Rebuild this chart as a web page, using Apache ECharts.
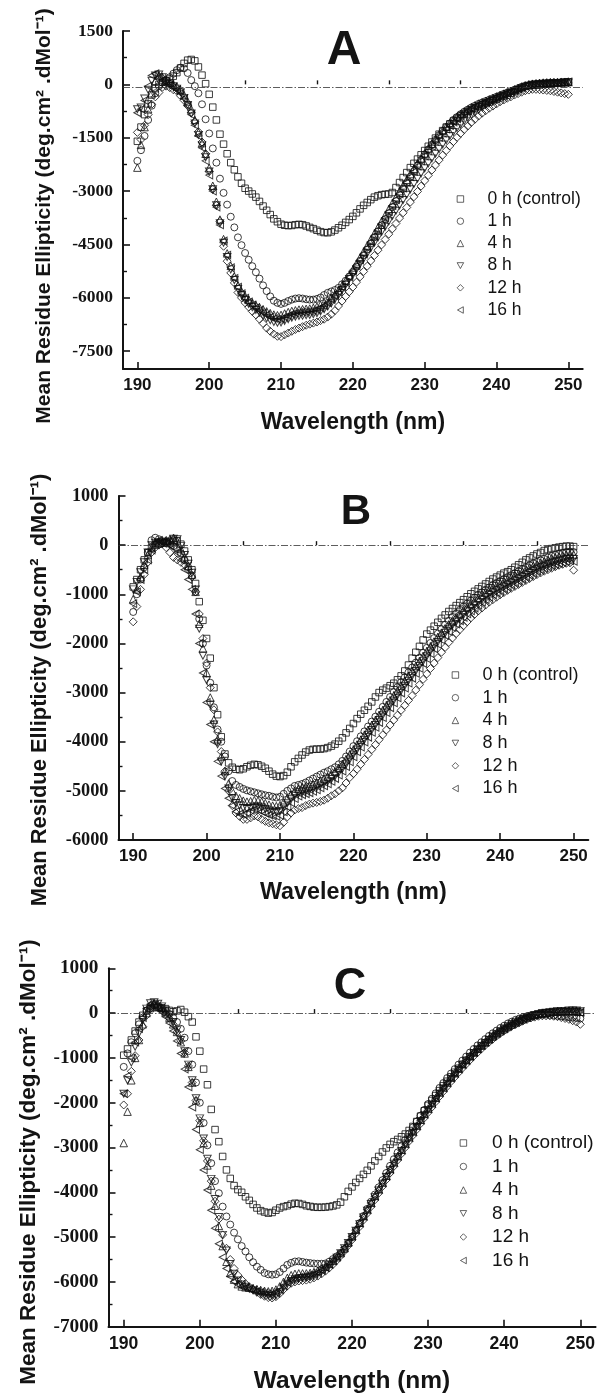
<!DOCTYPE html>
<html><head><meta charset="utf-8">
<script src="https://cdn.jsdelivr.net/npm/echarts@6/dist/echarts.min.js"></script>
<style>html,body{margin:0;padding:0;background:#fff}#c{width:598px;height:1396px}</style>
</head><body><div id="c"></div>
<script>
// ---------- DATA ----------
const wavelength = [
190,190.5,191,191.5,192,192.5,193,193.5,194,194.5,
195,195.5,196,196.5,197,197.5,198,198.5,199,199.5,
200,200.5,201,201.5,202,202.5,203,203.5,204,204.5,
205,205.5,206,206.5,207,207.5,208,208.5,209,209.5,
210,210.5,211,211.5,212,212.5,213,213.5,214,214.5,
215,215.5,216,216.5,217,217.5,218,218.5,219,219.5,
220,220.5,221,221.5,222,222.5,223,223.5,224,224.5,
225,225.5,226,226.5,227,227.5,228,228.5,229,229.5,
230,230.5,231,231.5,232,232.5,233,233.5,234,234.5,
235,235.5,236,236.5,237,237.5,238,238.5,239,239.5,
240,240.5,241,241.5,242,242.5,243,243.5,244,244.5,
245,245.5,246,246.5,247,247.5,248,248.5,249,249.5,
250];
const seriesNames = ['0 h (control)','1 h','4 h','8 h','12 h','16 h'];
const panelLetters = ['A','B','C'];
const xTickLabels = [190,200,210,220,230,240,250];
const xMinorTicks = [195,205,215,225,235,245];
const yTicksA = [-7500,-6000,-4500,-3000,-1500,0,1500];
const yMinorA = [-6750,-5250,-3750,-2250,-750,750];
const yTicksB = [-6000,-5000,-4000,-3000,-2000,-1000,0,1000];
const yMinorB = [-5500,-4500,-3500,-2500,-1500,-500,500];
const yTicksC = [-7000,-6000,-5000,-4000,-3000,-2000,-1000,0,1000];
const yMinorC = [-6500,-5500,-4500,-3500,-2500,-1500,-500,500];
const zeroLineLevel = [-90, 0, 0];

// Panel A
const A_0h = [
-1600,-1200,-850,-550,-300,-120,0,60,100,150,
230,330,460,590,680,700,660,490,260,20,
-280,-640,-1000,-1400,-1680,-1950,-2200,-2400,-2600,-2780,
-2920,-3000,-3080,-3170,-3290,-3420,-3540,-3660,-3780,-3860,
-3930,-3960,-3970,-3965,-3945,-3935,-3945,-3980,-4020,-4055,
-4100,-4140,-4165,-4170,-4145,-4095,-4030,-3960,-3880,-3800,
-3710,-3610,-3500,-3400,-3320,-3240,-3170,-3130,-3100,-3090,
-3080,-3040,-2900,-2760,-2620,-2480,-2340,-2220,-2100,-1980,
-1860,-1740,-1620,-1510,-1400,-1300,-1200,-1110,-1030,-950,
-880,-820,-760,-710,-660,-620,-580,-540,-500,-460,
-420,-380,-340,-300,-250,-200,-150,-100,-60,-40,
-30,-20,-10,0,10,20,30,40,50,60,
70];
const A_1h = [
-2150,-1850,-1450,-1000,-600,-250,-50,50,120,200,
300,400,470,450,320,120,-50,-250,-560,-980,
-1380,-1800,-2200,-2650,-3050,-3380,-3720,-4020,-4300,-4520,
-4740,-4930,-5110,-5280,-5460,-5650,-5810,-5960,-6080,-6140,
-6170,-6140,-6090,-6050,-6020,-6010,-6020,-6040,-6050,-6050,
-6030,-5990,-5920,-5860,-5820,-5780,-5720,-5620,-5520,-5400,
-5270,-5120,-4960,-4800,-4640,-4470,-4300,-4130,-3960,-3790,
-3620,-3450,-3280,-3110,-2940,-2770,-2600,-2440,-2280,-2120,
-1970,-1830,-1690,-1560,-1430,-1310,-1200,-1100,-1000,-920,
-840,-770,-710,-650,-600,-550,-510,-470,-430,-390,
-350,-310,-270,-230,-190,-150,-110,-70,-40,-20,
-10,0,0,10,10,20,20,30,30,40,
40];
const A_4h = [
-2340,-1700,-1200,-700,-250,100,250,200,100,50,
0,-60,-150,-300,-480,-700,-1000,-1350,-1650,-1950,
-2350,-2850,-3300,-3800,-4350,-4750,-5100,-5400,-5650,-5820,
-5950,-6050,-6130,-6200,-6260,-6320,-6380,-6430,-6470,-6490,
-6480,-6440,-6400,-6370,-6350,-6330,-6320,-6310,-6300,-6280,
-6250,-6200,-6140,-6070,-5990,-5900,-5790,-5660,-5520,-5370,
-5210,-5040,-4870,-4700,-4530,-4360,-4190,-4020,-3850,-3680,
-3510,-3340,-3170,-3000,-2840,-2680,-2520,-2370,-2220,-2080,
-1940,-1800,-1670,-1540,-1420,-1300,-1190,-1090,-1000,-910,
-830,-760,-700,-640,-590,-540,-500,-460,-420,-380,
-340,-300,-260,-220,-180,-140,-100,-60,-30,0,
20,30,40,50,50,60,60,60,70,70,
70];
const A_8h = [
-700,-650,-400,-150,100,250,280,200,80,0,
-50,-120,-220,-380,-580,-820,-1100,-1420,-1720,-2050,
-2450,-2950,-3400,-3900,-4450,-4850,-5200,-5500,-5750,-5920,
-6060,-6170,-6260,-6340,-6420,-6500,-6570,-6630,-6680,-6700,
-6690,-6650,-6600,-6560,-6530,-6510,-6500,-6490,-6480,-6460,
-6430,-6380,-6320,-6240,-6150,-6040,-5920,-5780,-5630,-5470,
-5350,-5200,-5050,-4900,-4750,-4600,-4450,-4300,-4150,-4000,
-3850,-3700,-3550,-3400,-3250,-3100,-2950,-2800,-2650,-2500,
-2360,-2220,-2080,-1950,-1820,-1690,-1570,-1450,-1340,-1230,
-1130,-1030,-940,-860,-780,-710,-640,-580,-520,-470,
-420,-370,-320,-280,-240,-200,-160,-120,-80,-40,
-10,0,10,20,20,30,30,40,40,50,
50];
const A_12h = [
-1350,-1550,-1150,-850,-560,-350,-230,-80,-50,-90,
-150,-190,-320,-450,-600,-800,-1050,-1330,-1620,-1950,
-2450,-2950,-3400,-3850,-4550,-4970,-5300,-5580,-5850,-6000,
-6140,-6260,-6380,-6480,-6600,-6720,-6850,-6940,-7020,-7080,
-7090,-7040,-6990,-6940,-6890,-6850,-6810,-6770,-6740,-6710,
-6680,-6640,-6600,-6540,-6460,-6360,-6230,-6090,-5960,-5830,
-5700,-5560,-5410,-5260,-5110,-4960,-4810,-4660,-4510,-4360,
-4210,-4060,-3910,-3760,-3610,-3460,-3310,-3160,-3010,-2860,
-2710,-2560,-2410,-2270,-2130,-1990,-1860,-1730,-1610,-1490,
-1380,-1270,-1170,-1070,-980,-890,-810,-740,-670,-610,
-550,-490,-440,-390,-350,-300,-260,-220,-180,-160,
-140,-140,-150,-160,-170,-180,-200,-220,-240,-260,
-280];
const A_16h = [
-800,-700,-450,-50,250,300,200,120,50,-20,
-80,-150,-250,-400,-600,-850,-1150,-1450,-1780,-2150,
-2550,-3000,-3450,-3950,-4400,-4800,-5150,-5450,-5700,-5880,
-6010,-6110,-6200,-6280,-6350,-6420,-6480,-6540,-6580,-6600,
-6590,-6550,-6500,-6460,-6430,-6410,-6400,-6390,-6380,-6360,
-6330,-6280,-6220,-6140,-6050,-5950,-5840,-5710,-5570,-5420,
-5260,-5100,-4940,-4770,-4600,-4430,-4260,-4090,-3920,-3750,
-3580,-3410,-3240,-3080,-2920,-2760,-2600,-2450,-2300,-2150,
-2010,-1870,-1740,-1610,-1490,-1370,-1260,-1160,-1060,-970,
-890,-810,-740,-680,-620,-570,-520,-480,-440,-400,
-360,-320,-280,-240,-200,-160,-120,-80,-40,-10,
10,20,30,40,40,50,50,60,60,70,
70];

// Panel B
const B_0h = [
-850,-700,-500,-300,-150,-50,0,20,40,60,
80,100,90,20,-120,-300,-500,-780,-1150,-1530,
-1900,-2300,-2900,-3450,-3900,-4250,-4430,-4520,-4560,-4570,
-4550,-4510,-4480,-4460,-4470,-4500,-4540,-4600,-4660,-4700,
-4710,-4690,-4620,-4510,-4410,-4340,-4270,-4210,-4170,-4155,
-4150,-4150,-4140,-4120,-4090,-4050,-3990,-3920,-3820,-3730,
-3630,-3530,-3440,-3360,-3280,-3190,-3090,-3000,-2950,-2910,
-2860,-2810,-2740,-2660,-2560,-2440,-2300,-2180,-2060,-1930,
-1810,-1730,-1650,-1570,-1490,-1420,-1350,-1290,-1230,-1170,
-1110,-1050,-990,-940,-890,-840,-790,-740,-690,-650,
-610,-570,-540,-500,-450,-400,-350,-300,-260,-220,
-180,-150,-110,-90,-70,-55,-40,-30,-20,-20,
-30];
const B_1h = [
-1360,-1000,-700,-450,-150,100,150,120,80,50,
20,-20,-80,-170,-300,-450,-620,-950,-1500,-2000,
-2450,-2800,-3300,-3750,-4000,-4300,-4600,-4800,-4880,-4920,
-4960,-4990,-5010,-5030,-5050,-5070,-5090,-5100,-5120,-5135,
-5120,-5060,-5000,-4950,-4900,-4880,-4860,-4830,-4790,-4750,
-4710,-4670,-4630,-4600,-4560,-4520,-4460,-4390,-4300,-4200,
-4090,-3990,-3890,-3790,-3690,-3590,-3490,-3390,-3290,-3190,
-3090,-2990,-2890,-2790,-2690,-2590,-2490,-2390,-2290,-2190,
-2090,-1990,-1890,-1800,-1710,-1620,-1540,-1460,-1390,-1320,
-1250,-1190,-1130,-1070,-1010,-960,-910,-860,-810,-770,
-730,-690,-650,-610,-570,-530,-490,-450,-410,-370,
-340,-310,-280,-250,-220,-200,-180,-160,-140,-130,
-140];
const B_4h = [
-1100,-900,-650,-400,-200,-50,50,80,60,100,
120,150,80,-80,-250,-420,-600,-950,-1600,-2100,
-2600,-3100,-3550,-3950,-4300,-4600,-4850,-5000,-5100,-5150,
-5200,-5220,-5210,-5190,-5200,-5220,-5250,-5280,-5300,-5310,
-5290,-5230,-5150,-5070,-5000,-4960,-4930,-4910,-4890,-4860,
-4830,-4790,-4750,-4710,-4660,-4600,-4530,-4450,-4360,-4260,
-4160,-4060,-3960,-3860,-3760,-3660,-3560,-3460,-3360,-3260,
-3160,-3060,-2960,-2860,-2760,-2660,-2560,-2460,-2360,-2260,
-2160,-2060,-1960,-1870,-1780,-1690,-1610,-1530,-1460,-1390,
-1320,-1250,-1190,-1130,-1070,-1010,-960,-910,-860,-820,
-780,-740,-700,-660,-620,-580,-540,-500,-460,-420,
-390,-360,-330,-300,-270,-250,-230,-210,-190,-180,
-190];
const B_8h = [
-900,-750,-550,-350,-150,0,50,60,40,30,
60,130,120,-20,-200,-380,-560,-900,-1700,-2250,
-2750,-3250,-3650,-4050,-4400,-4700,-4950,-5150,-5250,-5300,
-5350,-5370,-5350,-5320,-5320,-5340,-5370,-5400,-5420,-5430,
-5410,-5340,-5250,-5170,-5100,-5060,-5030,-5010,-4990,-4960,
-4930,-4890,-4850,-4810,-4760,-4700,-4630,-4550,-4460,-4360,
-4260,-4160,-4060,-3960,-3860,-3760,-3660,-3560,-3460,-3360,
-3260,-3160,-3060,-2960,-2860,-2760,-2660,-2560,-2460,-2360,
-2260,-2160,-2060,-1970,-1880,-1790,-1710,-1630,-1560,-1490,
-1420,-1350,-1290,-1230,-1170,-1110,-1060,-1010,-960,-920,
-880,-840,-800,-760,-720,-680,-640,-600,-560,-520,
-480,-450,-420,-390,-360,-340,-320,-300,-280,-270,
-280];
const B_12h = [
-1560,-1250,-900,-600,-350,-150,-50,0,30,-50,
-150,-250,-300,-350,-400,-500,-650,-950,-1400,-1900,
-2400,-2900,-3350,-3800,-4200,-4600,-5000,-5300,-5450,-5520,
-5580,-5580,-5550,-5510,-5530,-5580,-5620,-5650,-5670,-5690,
-5710,-5640,-5530,-5450,-5390,-5360,-5340,-5300,-5270,-5250,
-5235,-5215,-5190,-5150,-5100,-5060,-5000,-4940,-4840,-4730,
-4650,-4560,-4460,-4360,-4260,-4160,-4060,-3960,-3860,-3760,
-3660,-3560,-3460,-3360,-3260,-3160,-3060,-2950,-2840,-2730,
-2620,-2510,-2400,-2290,-2180,-2080,-1980,-1890,-1800,-1720,
-1640,-1560,-1480,-1410,-1340,-1280,-1220,-1160,-1110,-1060,
-1010,-965,-920,-880,-840,-800,-760,-720,-680,-640,
-600,-565,-530,-500,-470,-440,-410,-390,-370,-360,
-510];
const B_16h = [
-1190,-950,-700,-500,-300,-100,50,100,80,40,
0,-50,-150,-300,-500,-700,-900,-1400,-2000,-2600,
-3200,-3650,-4000,-4400,-4700,-4950,-5150,-5300,-5420,-5470,
-5480,-5450,-5400,-5380,-5390,-5420,-5460,-5490,-5510,-5520,
-5500,-5430,-5330,-5240,-5160,-5110,-5080,-5060,-5040,-5010,
-4980,-4940,-4900,-4860,-4810,-4750,-4680,-4600,-4510,-4410,
-4310,-4210,-4110,-4010,-3910,-3810,-3710,-3610,-3510,-3410,
-3310,-3210,-3110,-3010,-2910,-2810,-2710,-2610,-2510,-2410,
-2310,-2210,-2110,-2020,-1930,-1840,-1760,-1680,-1610,-1540,
-1470,-1400,-1340,-1280,-1220,-1160,-1110,-1060,-1010,-970,
-930,-890,-850,-810,-770,-730,-690,-650,-610,-570,
-530,-500,-470,-440,-410,-390,-370,-350,-330,-320,
-330];

// Panel C
const C_0h = [
-940,-800,-600,-400,-200,-50,50,100,120,130,
120,100,60,30,50,80,20,-80,-200,-530,
-850,-1250,-1600,-2150,-2600,-2870,-3200,-3500,-3690,-3850,
-3940,-4000,-4100,-4180,-4270,-4350,-4410,-4440,-4465,-4450,
-4400,-4350,-4320,-4300,-4265,-4245,-4250,-4270,-4300,-4315,
-4330,-4335,-4335,-4330,-4320,-4305,-4280,-4220,-4100,-3980,
-3880,-3780,-3690,-3600,-3510,-3410,-3300,-3200,-3100,-3010,
-2930,-2870,-2820,-2760,-2700,-2620,-2530,-2420,-2300,-2180,
-2060,-1950,-1840,-1730,-1620,-1520,-1420,-1320,-1230,-1140,
-1050,-970,-890,-810,-740,-670,-600,-540,-480,-420,
-370,-320,-270,-230,-190,-150,-110,-80,-50,-30,
-10,0,10,20,20,30,30,30,40,30,
20];
const C_1h = [
-1200,-900,-650,-450,-250,-100,50,150,180,150,
100,50,-20,-100,-200,-350,-550,-850,-1150,-1550,
-2000,-2450,-2950,-3350,-3750,-4020,-4320,-4540,-4720,-4900,
-5050,-5200,-5320,-5450,-5560,-5660,-5730,-5800,-5830,-5840,
-5830,-5780,-5700,-5620,-5575,-5545,-5540,-5555,-5570,-5580,
-5590,-5595,-5595,-5590,-5550,-5490,-5430,-5360,-5270,-5140,
-5000,-4850,-4690,-4530,-4370,-4210,-4050,-3890,-3730,-3570,
-3410,-3260,-3110,-2970,-2830,-2690,-2550,-2420,-2290,-2160,
-2030,-1910,-1790,-1670,-1560,-1450,-1350,-1250,-1150,-1060,
-970,-880,-800,-720,-650,-580,-510,-450,-390,-330,
-280,-230,-190,-150,-120,-90,-70,-50,-40,-30,
-30,-30,-40,-50,-60,-70,-80,-90,-100,-110,
-120];
const C_4h = [
-2900,-2200,-1500,-1000,-600,-250,0,180,220,200,
120,20,-100,-250,-420,-650,-900,-1200,-1550,-1950,
-2450,-2900,-3400,-3850,-4300,-4750,-5200,-5550,-5800,-5950,
-6050,-6100,-6120,-6130,-6140,-6160,-6180,-6200,-6210,-6200,
-6170,-6100,-6000,-5910,-5850,-5820,-5810,-5810,-5810,-5800,
-5780,-5750,-5710,-5660,-5600,-5530,-5450,-5360,-5250,-5120,
-4980,-4830,-4680,-4530,-4380,-4230,-4080,-3930,-3780,-3630,
-3480,-3330,-3190,-3050,-2910,-2770,-2640,-2510,-2380,-2250,
-2130,-2010,-1890,-1770,-1660,-1550,-1440,-1340,-1240,-1140,
-1050,-960,-870,-790,-710,-640,-570,-500,-440,-380,
-330,-280,-230,-190,-150,-120,-90,-60,-40,-20,
0,10,20,30,40,40,50,50,50,40,
30];
const C_8h = [
-1800,-1500,-1100,-750,-450,-150,100,220,240,210,
150,60,-50,-200,-380,-600,-850,-1150,-1500,-1900,
-2350,-2800,-3250,-3700,-4150,-4550,-4950,-5300,-5600,-5820,
-5970,-6060,-6110,-6150,-6190,-6230,-6260,-6290,-6310,-6320,
-6300,-6230,-6130,-6040,-5980,-5940,-5920,-5910,-5900,-5880,
-5850,-5810,-5760,-5700,-5630,-5550,-5460,-5360,-5250,-5130,
-5000,-4860,-4710,-4560,-4410,-4260,-4110,-3960,-3810,-3660,
-3510,-3360,-3220,-3080,-2940,-2800,-2670,-2540,-2410,-2280,
-2160,-2040,-1920,-1800,-1690,-1580,-1470,-1370,-1270,-1170,
-1080,-990,-900,-820,-740,-670,-600,-530,-470,-410,
-350,-300,-250,-210,-170,-130,-100,-70,-40,-20,
0,10,20,30,40,50,50,60,60,60,
50];
const C_12h = [
-2050,-1800,-1300,-950,-600,-300,-50,100,150,120,
60,-20,-120,-250,-420,-620,-880,-1180,-1550,-1950,
-2400,-2850,-3300,-3750,-4200,-4600,-4950,-5250,-5500,-5700,
-5850,-5950,-6040,-6110,-6170,-6230,-6280,-6320,-6350,-6360,
-6330,-6260,-6170,-6090,-6030,-6000,-5980,-5970,-5960,-5940,
-5910,-5870,-5820,-5760,-5690,-5610,-5520,-5420,-5310,-5190,
-5060,-4920,-4770,-4620,-4470,-4320,-4170,-4020,-3870,-3720,
-3570,-3420,-3280,-3140,-3000,-2860,-2730,-2600,-2470,-2340,
-2220,-2100,-1980,-1860,-1750,-1640,-1530,-1430,-1330,-1230,
-1140,-1050,-960,-880,-800,-720,-650,-580,-510,-450,
-390,-340,-290,-250,-210,-170,-140,-110,-90,-70,
-60,-60,-60,-70,-80,-100,-120,-140,-170,-200,
-250];
const C_16h = [
-1800,-1400,-1000,-650,-350,-100,100,200,180,120,
30,-80,-220,-400,-620,-900,-1250,-1650,-2100,-2600,
-3050,-3500,-3950,-4400,-4800,-5150,-5450,-5700,-5880,-5990,
-6060,-6100,-6130,-6160,-6190,-6210,-6230,-6250,-6260,-6260,
-6240,-6180,-6090,-6010,-5950,-5920,-5900,-5890,-5880,-5860,
-5830,-5790,-5740,-5680,-5610,-5530,-5440,-5340,-5230,-5110,
-4980,-4840,-4690,-4540,-4390,-4240,-4090,-3940,-3790,-3640,
-3490,-3340,-3200,-3060,-2920,-2780,-2650,-2520,-2390,-2260,
-2140,-2020,-1900,-1780,-1670,-1560,-1450,-1350,-1250,-1150,
-1060,-970,-880,-800,-720,-650,-580,-510,-450,-390,
-340,-290,-240,-200,-160,-120,-90,-60,-40,-20,
0,10,20,20,30,30,30,30,30,20,
10];

// ---------- STYLE / LAYOUT ----------
const SANS = '"Liberation Sans", Arial, Helvetica, sans-serif';
const SERIF = '"Liberation Serif", "Times New Roman", serif';
const INK = '#141414';
const symbols = ['rect','circle','triangle','path://M0,0L10,0L5,9Z','diamond','path://M0,5L9,0L9,10Z'];
const symbolSizes = [6.5,7,7.5,[7.5,7],8,[7,7.5]];
const LEG_ICON = 6.5;

const panels = [
  { data:[A_0h,A_1h,A_4h,A_8h,A_12h,A_16h], yMin:-8000, yMax:1500, yTicks:yTicksA, yMinor:yMinorA,
    grid:{left:123, right:15.3, top:31, bottom:1027}, yFont:17.5, xFont:17, nameFont:23, nameGap:42,
    legend:{cx:460, textX:487, top:189, itemGap:2.2, fontSize:17.5},
    letter:{x:344, y:51, size:48}, ytitle:{x:44, y:216, size:21} },
  { data:[B_0h,B_1h,B_4h,B_8h,B_12h,B_16h], yMin:-6000, yMax:1000, yTicks:yTicksB, yMinor:yMinorB,
    grid:{left:118.5, right:9.7, top:496, bottom:556}, yFont:18.3, xFont:17, nameFont:23.3, nameGap:41,
    legend:{cx:455, textX:482, top:665, itemGap:2.7, fontSize:18},
    letter:{x:356, y:512, size:42}, ytitle:{x:40, y:690, size:21.9} },
  { data:[C_0h,C_1h,C_4h,C_8h,C_12h,C_16h], yMin:-7000, yMax:1000, yTicks:yTicksC, yMinor:yMinorC,
    grid:{left:108.5, right:1.5, top:968.3, bottom:69.3}, yFont:19.3, xFont:17.6, nameFont:24.5, nameGap:42,
    legend:{cx:463, textX:491.7, top:1133, itemGap:3.5, fontSize:19},
    letter:{x:350, y:987, size:45}, ytitle:{x:28.5, y:1162, size:22.5} }
];

const grids = [], xAxes = [], yAxes = [], series = [], legends = [], graphics = [];
const plain = v => String(v);
panels.forEach((p, pi) => {
  grids.push(Object.assign({containLabel:false}, p.grid));
  const axisLine = {show:true, onZero:false, lineStyle:{color:INK, width:2}};
  xAxes.push({type:'value', gridIndex:pi, min:188, max:252, position:'bottom',
    axisLine, splitLine:{show:false},
    axisTick:{show:true, inside:true, length:7, customValues:xTickLabels, lineStyle:{color:INK, width:1.6}},
    axisLabel:{show:true, customValues:xTickLabels, formatter:plain, margin:8, color:INK, fontFamily:SANS, fontWeight:'bold', fontSize:p.xFont},
    name:'Wavelength (nm)', nameLocation:'middle', nameGap:p.nameGap,
    nameTextStyle:{fontFamily:SANS, fontWeight:'bold', fontSize:p.nameFont, color:INK}});
  xAxes.push({type:'value', gridIndex:pi, min:188, max:252, position:'bottom', offset:0,
    axisLine:{show:false}, splitLine:{show:false}, axisLabel:{show:false},
    axisTick:{show:true, inside:true, length:4, customValues:xMinorTicks, lineStyle:{color:INK, width:1.4}}});
  yAxes.push({type:'value', gridIndex:pi, min:p.yMin, max:p.yMax, position:'left',
    axisLine, splitLine:{show:false},
    axisTick:{show:true, inside:true, length:7, customValues:p.yTicks, lineStyle:{color:INK, width:1.6}},
    axisLabel:{show:true, customValues:p.yTicks, formatter:plain, margin:10, color:INK, fontFamily:SERIF, fontWeight:'bold', fontSize:p.yFont}});
  yAxes.push({type:'value', gridIndex:pi, min:p.yMin, max:p.yMax, position:'left', offset:0,
    axisLine:{show:false}, splitLine:{show:false}, axisLabel:{show:false},
    axisTick:{show:true, inside:true, length:4, customValues:p.yMinor, lineStyle:{color:INK, width:1.4}}});

  p.data.forEach((arr, si) => {
    const s = {
      type:'scatter', name:seriesNames[si], xAxisIndex:2*pi, yAxisIndex:2*pi,
      data: wavelength.map((w, i) => [w, arr[i]]),
      symbol:symbols[si], symbolSize:symbolSizes[si],
      itemStyle:{color:'rgba(255,255,255,0)', borderColor:'#0e0e0e', borderWidth:1},
      emphasis:{disabled:true}, silent:true, z:3
    };
    if (si === 0) {
      s.markLine = {silent:true, symbol:'none', label:{show:false}, animation:false,
        lineStyle:{color:'#333', width:0.8, type:[7,2,1.5,2]},
        data:[{yAxis:zeroLineLevel[pi]}]};
    }
    series.push(s);
  });

  const padLeft = p.legend.textX - (p.legend.cx + LEG_ICON/2) - 5;
  legends.push({orient:'vertical', left:p.legend.cx - LEG_ICON/2, top:p.legend.top, padding:0,
    itemWidth:LEG_ICON, itemHeight:LEG_ICON, itemGap:p.legend.itemGap,
    selectedMode:false, data:seriesNames.slice(),
    itemStyle:{borderWidth:0.8},
    textStyle:{fontFamily:SANS, fontSize:p.legend.fontSize, lineHeight:20, color:INK, padding:[0,0,0,padLeft]}});

  graphics.push({type:'text', x:p.letter.x, y:p.letter.y,
    style:{text:panelLetters[pi], font:'bold '+p.letter.size+'px '+SANS, fill:INK,
      textAlign:'center', textVerticalAlign:'middle'}});
  graphics.push({type:'text', x:p.ytitle.x, y:p.ytitle.y, rotation:Math.PI/2,
    style:{text:'Mean Residue Ellipticity (deg.cm\u00B2 .dMol\u207B\u00B9)',
      font:'bold '+p.ytitle.size+'px '+SANS, fill:INK, textAlign:'center', textVerticalAlign:'middle'}});
});

const chart = echarts.init(document.getElementById('c'), null, {renderer:'canvas'});
chart.setOption({
  animation:false, backgroundColor:'#fff',
  grid:grids, xAxis:xAxes, yAxis:yAxes, series, legend:legends, graphic:graphics
});
</script></body></html>
